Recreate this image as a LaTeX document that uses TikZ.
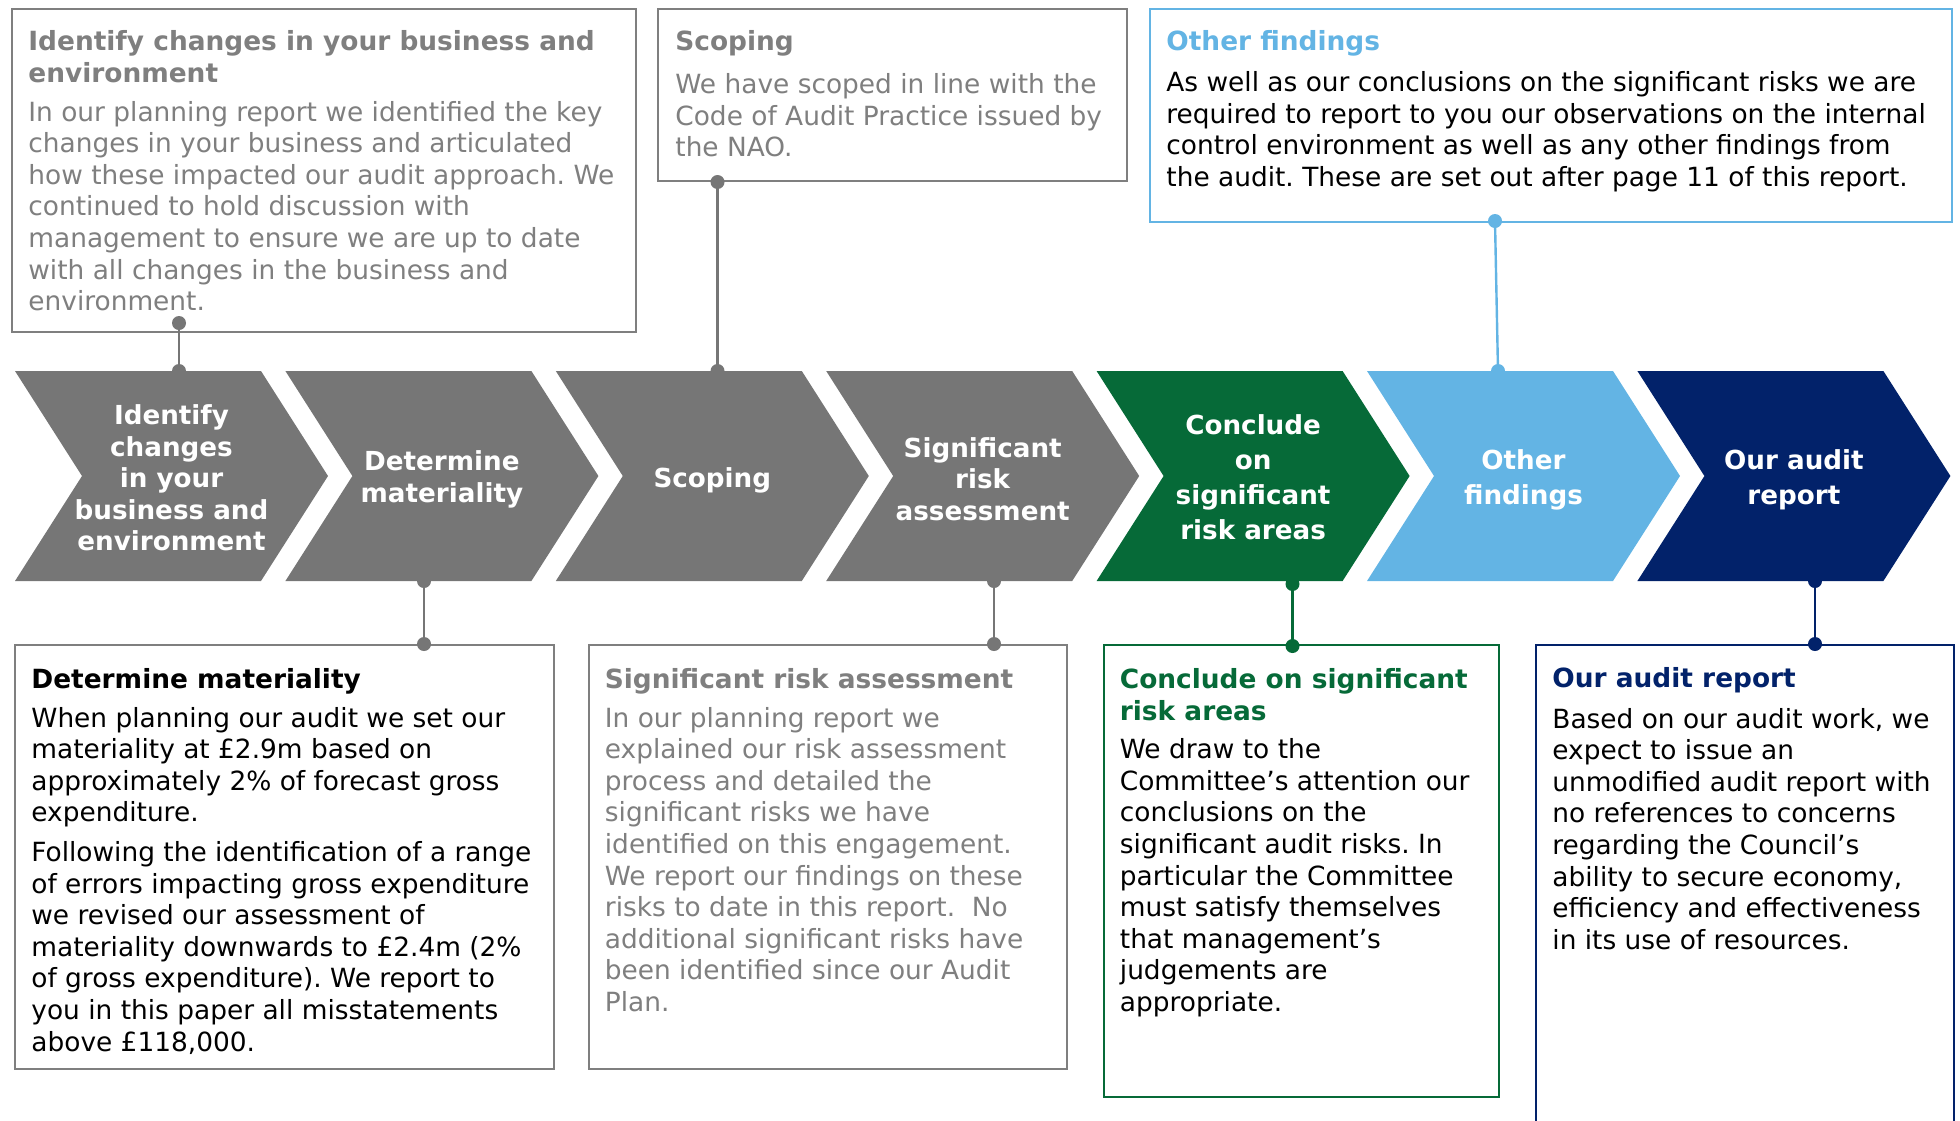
\documentclass[tikz,border=0pt]{standalone}
\usepackage{fontspec}
\setmainfont{DejaVu Sans}
\usetikzlibrary{calc}
\definecolor{stepgray}{HTML}{767676}
\definecolor{txtgray}{HTML}{7F7F7F}
\definecolor{stepgreen}{HTML}{066A38}
\definecolor{stepsky}{HTML}{63B4E4}
\definecolor{stepnavy}{HTML}{02226A}

\begin{document}
\frenchspacing
\begin{tikzpicture}[x=0.5pt,y=-0.5pt,
  body/.style={font=\fontsize{13.2pt}{15.8pt}\selectfont, align=left, inner sep=0pt, anchor=north west},
  card/.style={draw=#1, line width=1pt, inner sep=0pt, anchor=north west, fill=white},
  chevtext/.style={font=\fontsize{13.1pt}{15.8pt}\selectfont\bfseries, align=center, text=white, inner sep=0pt},
  chevtextwide/.style={chevtext, font=\fontsize{13.1pt}{17.5pt}\selectfont\bfseries},
  link/.style={draw=#1, line width=1.2pt},
  tip/.style={fill=#1}
]
\path[use as bounding box] (0,0) rectangle (1960,1120);
\clip (0,0) rectangle (1960,1120);

% process chevrons
\foreach \i/\col in {0/stepgray,1/stepgray,2/stepgray,3/stepgray,4/stepgreen,5/stepsky,6/stepnavy}
  \fill[\col] ({15+\i*270.4},371) -- ++(246,0) -- ++(67,105) -- ++(-67,105)
              -- ++(-246,0) -- ++(67,-105) -- cycle;

\node[chevtext] (c1) at (171.5,478) {Identify\\changes\\in your\\business and\\environment};
\node[chevtext] (c2) at (441.9,479.5) {Determine\\materiality};
\node[chevtext] (c3) at (712.3,480) {Scoping};
\node[chevtext] (c4) at (982.7,479) {Significant\\risk\\assessment};
\node[chevtextwide] (c5) at (1253.1,477) {Conclude\\on\\significant\\risk areas};
\node[chevtextwide] (c6) at (1523.5,479.5) {Other\\findings};
\node[chevtextwide] (c7) at (1793.9,479.5) {Our audit\\report};

% attachment points on the chevron edges
\coordinate (p1) at (179,371);
\coordinate (p2) at (424,581);
\coordinate (p3) at (717.5,371);
\coordinate (p4) at (994,581);
\coordinate (p5) at (1292.5,584);
\coordinate (p6) at (1498,371);
\coordinate (p7) at (1815,581);

% description cards
\node[card=txtgray, minimum width=312pt, minimum height=161.75pt] (bA) at (11,7.5) {};
\node[card=txtgray, minimum width=234.5pt, minimum height=86.25pt] (bB) at (657,7.5) {};
\node[card=stepsky, minimum width=401pt, minimum height=106.75pt] (bC) at (1149,7.5) {};
\node[card=txtgray, minimum width=269.25pt, minimum height=211.75pt] (bD) at (14,644) {};
\node[card=txtgray, minimum width=239.25pt, minimum height=211.75pt] (bE) at (587.5,644) {};
\node[card=stepgreen, minimum width=197.5pt, minimum height=226pt] (bF) at (1102.5,644) {};
\node[card=stepnavy, minimum width=208.75pt, minimum height=248pt] (bG) at (1535,644) {};

\node[body, text=txtgray] (tA) at ([xshift=8.5pt,yshift=-11.5pt]bA.north west)
  {{\bfseries Identify changes in your business and}\\
   {\bfseries environment}\\[3.5pt]
   In our planning report we identified the key\\
   changes in your business and articulated\\
   how these impacted our audit approach. We\\
   continued to hold discussion with\\
   management to ensure we are up to date\\
   with all changes in the business and\\
   environment.};

\node[body, text=txtgray] (tB) at ([xshift=9pt,yshift=-11.5pt]bB.north west)
  {{\bfseries Scoping}\\[5.5pt]
   We have scoped in line with the\\
   Code of Audit Practice issued by\\
   the NAO.};

\node[body, text=black] (tC) at ([xshift=8.5pt,yshift=-11.5pt]bC.north west)
  {{\bfseries\color{stepsky}Other findings}\\[4.5pt]
   As well as our conclusions on the significant risks we are\\
   required to report to you our observations on the internal\\
   control environment as well as any other findings from\\
   the audit. These are set out after page 11 of this report.};

\node[body, text=black] (tD) at ([xshift=8.5pt,yshift=-12pt]bD.north west)
  {{\bfseries Determine materiality}\\[3.5pt]
   When planning our audit we set our\\
   materiality at £2.9m based on\\
   approximately 2\% of forecast gross\\
   expenditure.\\[4pt]
   Following the identification of a range\\
   of errors impacting gross expenditure\\
   we revised our assessment of\\
   materiality downwards to £2.4m (2\%\\
   of gross expenditure). We report to\\
   you in this paper all misstatements\\
   above £118,000.};

\node[body, text=txtgray] (tE) at ([xshift=8.5pt,yshift=-12pt]bE.north west)
  {{\bfseries Significant risk assessment}\\[3.5pt]
   In our planning report we\\
   explained our risk assessment\\
   process and detailed the\\
   significant risks we have\\
   identified on this engagement.\\
   We report our findings on these\\
   risks to date in this report.\ \ No\\
   additional significant risks have\\
   been identified since our Audit\\
   Plan.};

\node[body, text=black] (tF) at ([xshift=8.5pt,yshift=-12pt]bF.north west)
  {{\bfseries\color{stepgreen}Conclude on significant}\\
   {\bfseries\color{stepgreen}risk areas}\\[3.5pt]
   We draw to the\\
   Committee’s attention our\\
   conclusions on the\\
   significant audit risks. In\\
   particular the Committee\\
   must satisfy themselves\\
   that management’s\\
   judgements are\\
   appropriate.};

\node[body, text=black] (tG) at ([xshift=8.5pt,yshift=-11.5pt]bG.north west)
  {{\bfseries\color{stepnavy}Our audit report}\\[4.5pt]
   Based on our audit work, we\\
   expect to issue an\\
   unmodified audit report with\\
   no references to concerns\\
   regarding the Council’s\\
   ability to secure economy,\\
   efficiency and effectiveness\\
   in its use of resources.};

% connectors with round end dots
\coordinate (qA) at ($(bA.south -| p1)+(0,-10)$);
\draw[link=stepgray] (qA) -- (p1);
\fill[tip=stepgray] (qA) circle (3.5pt) (p1) circle (3.5pt);

\draw[link=stepgray] (bB.south -| p3) -- (p3);
\fill[tip=stepgray] (bB.south -| p3) circle (3.5pt) (p3) circle (3.5pt);

\coordinate (qC) at (1495,221);
\draw[link=stepsky] (qC) -- (p6);
\fill[tip=stepsky] (qC) circle (3.5pt) (p6) circle (3.5pt);

\draw[link=stepgray] (p2) -- (bD.north -| p2);
\fill[tip=stepgray] (p2) circle (3.5pt) (bD.north -| p2) circle (3.5pt);

\draw[link=stepgray] (p4) -- (bE.north -| p4);
\fill[tip=stepgray] (p4) circle (3.5pt) (bE.north -| p4) circle (3.5pt);

\coordinate (qF) at ($(bF.north -| p5)+(0,2)$);
\draw[link=stepgreen] (p5) -- (qF);
\fill[tip=stepgreen] (p5) circle (3.5pt) (qF) circle (3.5pt);

\draw[link=stepnavy] (p7) -- (bG.north -| p7);
\fill[tip=stepnavy] (p7) circle (3.5pt) (bG.north -| p7) circle (3.5pt);
\end{tikzpicture}
\end{document}
